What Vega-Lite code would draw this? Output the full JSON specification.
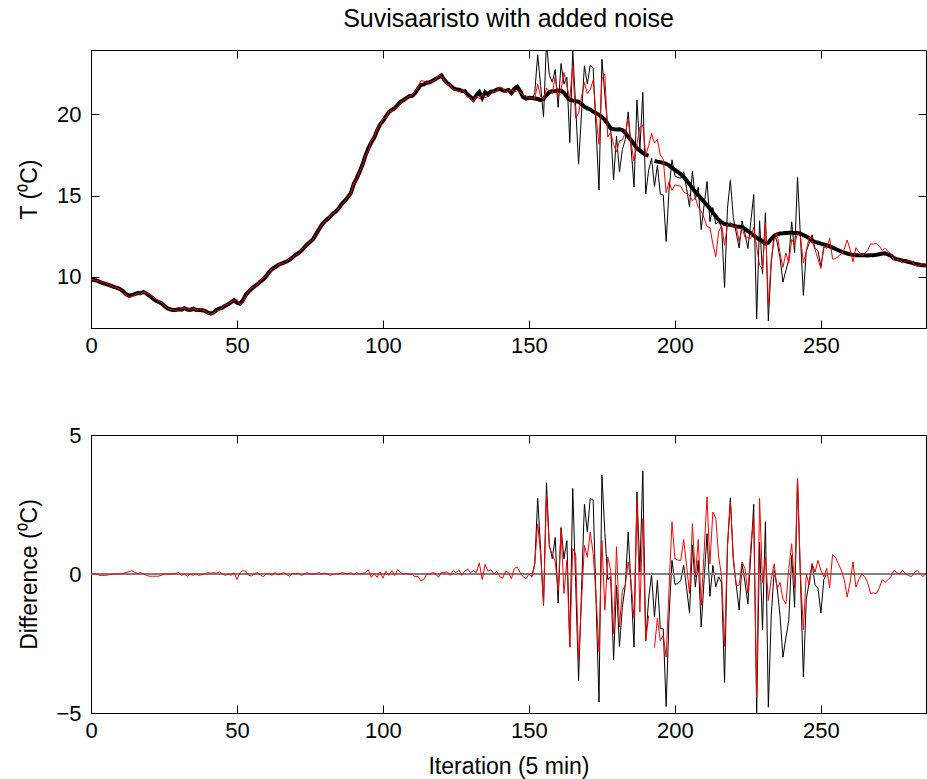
{
"$schema": "https://vega.github.io/schema/vega-lite/v6.json",
"background": "white",
"padding": {"left": 17, "top": 6, "right": 0, "bottom": 0},
"spacing": 66,
"config": {
  "font": "Liberation Sans",
  "view": {"stroke": "black", "strokeWidth": 1},
  "axis": {"grid": false, "domain": false, "tickSize": -8, "tickColor": "black", "tickWidth": 1, "labelPadding": 18, "labelFont": "Liberation Sans", "labelFontSize": 22, "labelColor": "black", "titleFont": "Liberation Sans", "titleFontSize": 23, "titleFontWeight": "normal", "titleColor": "black", "labelFlush": false},
  "axisX": {"labelPadding": 15}
},
"datasets": {"d": [
{"i":0,"t":9.86,"n":9.86,"e":9.86,"db":0,"dr":0},
{"i":1,"t":9.82,"n":9.82,"e":9.82,"db":0,"dr":0},
{"i":2,"t":9.78,"n":9.78,"e":9.78,"db":0,"dr":0},
{"i":3,"t":9.70,"n":9.70,"e":9.75,"db":0,"dr":-0.05},
{"i":4,"t":9.63,"n":9.63,"e":9.68,"db":0,"dr":-0.05},
{"i":5,"t":9.58,"n":9.58,"e":9.63,"db":0,"dr":-0.05},
{"i":6,"t":9.52,"n":9.52,"e":9.55,"db":0,"dr":-0.03},
{"i":7,"t":9.45,"n":9.45,"e":9.45,"db":0,"dr":0},
{"i":8,"t":9.38,"n":9.38,"e":9.38,"db":0,"dr":0},
{"i":9,"t":9.33,"n":9.33,"e":9.33,"db":0,"dr":0},
{"i":10,"t":9.25,"n":9.25,"e":9.25,"db":0,"dr":0},
{"i":11,"t":9.12,"n":9.12,"e":9.10,"db":0,"dr":0.02},
{"i":12,"t":8.95,"n":8.95,"e":8.90,"db":0,"dr":0.05},
{"i":13,"t":8.85,"n":8.85,"e":8.77,"db":0,"dr":0.08},
{"i":14,"t":8.90,"n":8.90,"e":8.78,"db":0,"dr":0.12},
{"i":15,"t":8.95,"n":8.95,"e":8.90,"db":0,"dr":0.05},
{"i":16,"t":9.02,"n":9.02,"e":9.00,"db":0,"dr":0.02},
{"i":17,"t":9.00,"n":9.00,"e":8.95,"db":0,"dr":0.05},
{"i":18,"t":9.08,"n":9.08,"e":9.08,"db":0,"dr":0},
{"i":19,"t":8.98,"n":8.98,"e":9.03,"db":0,"dr":-0.05},
{"i":20,"t":8.85,"n":8.85,"e":8.93,"db":0,"dr":-0.08},
{"i":21,"t":8.72,"n":8.72,"e":8.80,"db":0,"dr":-0.08},
{"i":22,"t":8.57,"n":8.57,"e":8.65,"db":0,"dr":-0.08},
{"i":23,"t":8.48,"n":8.48,"e":8.56,"db":0,"dr":-0.08},
{"i":24,"t":8.40,"n":8.40,"e":8.45,"db":0,"dr":-0.05},
{"i":25,"t":8.25,"n":8.25,"e":8.25,"db":0,"dr":0},
{"i":26,"t":8.10,"n":8.10,"e":8.10,"db":0,"dr":0},
{"i":27,"t":8.02,"n":8.02,"e":8.02,"db":0,"dr":0},
{"i":28,"t":7.98,"n":7.98,"e":7.98,"db":0,"dr":0},
{"i":29,"t":7.98,"n":7.98,"e":7.96,"db":0,"dr":0.02},
{"i":30,"t":8.02,"n":8.02,"e":7.97,"db":0,"dr":0.05},
{"i":31,"t":8.00,"n":8.00,"e":8.05,"db":0,"dr":-0.05},
{"i":32,"t":8.08,"n":8.08,"e":8.08,"db":0,"dr":0},
{"i":33,"t":8.00,"n":8.00,"e":8.08,"db":0,"dr":-0.08},
{"i":34,"t":7.98,"n":7.98,"e":7.98,"db":0,"dr":0},
{"i":35,"t":8.05,"n":8.05,"e":8.10,"db":0,"dr":-0.05},
{"i":36,"t":7.98,"n":7.98,"e":7.96,"db":0,"dr":0.02},
{"i":37,"t":7.98,"n":7.98,"e":8.03,"db":0,"dr":-0.05},
{"i":38,"t":7.96,"n":7.96,"e":7.98,"db":0,"dr":-0.02},
{"i":39,"t":7.92,"n":7.92,"e":7.92,"db":0,"dr":0},
{"i":40,"t":7.82,"n":7.82,"e":7.77,"db":0,"dr":0.05},
{"i":41,"t":7.75,"n":7.75,"e":7.72,"db":0,"dr":0.03},
{"i":42,"t":7.82,"n":7.82,"e":7.77,"db":0,"dr":0.05},
{"i":43,"t":7.98,"n":7.98,"e":7.95,"db":0,"dr":0.03},
{"i":44,"t":8.06,"n":8.06,"e":7.98,"db":0,"dr":0.08},
{"i":45,"t":8.12,"n":8.12,"e":8.12,"db":0,"dr":0},
{"i":46,"t":8.24,"n":8.24,"e":8.29,"db":0,"dr":-0.05},
{"i":47,"t":8.32,"n":8.32,"e":8.32,"db":0,"dr":0},
{"i":48,"t":8.45,"n":8.45,"e":8.50,"db":0,"dr":-0.05},
{"i":49,"t":8.58,"n":8.58,"e":8.53,"db":0,"dr":0.05},
{"i":50,"t":8.42,"n":8.42,"e":8.62,"db":0,"dr":-0.2},
{"i":51,"t":8.36,"n":8.36,"e":8.31,"db":0,"dr":0.05},
{"i":52,"t":8.55,"n":8.55,"e":8.43,"db":0,"dr":0.12},
{"i":53,"t":8.90,"n":8.90,"e":8.80,"db":0,"dr":0.1},
{"i":54,"t":9.10,"n":9.10,"e":9.15,"db":0,"dr":-0.05},
{"i":55,"t":9.28,"n":9.28,"e":9.35,"db":0,"dr":-0.07},
{"i":56,"t":9.42,"n":9.42,"e":9.40,"db":0,"dr":0.02},
{"i":57,"t":9.55,"n":9.55,"e":9.50,"db":0,"dr":0.05},
{"i":58,"t":9.72,"n":9.72,"e":9.75,"db":0,"dr":-0.03},
{"i":59,"t":9.85,"n":9.85,"e":9.95,"db":0,"dr":-0.1},
{"i":60,"t":10.05,"n":10.05,"e":10.05,"db":0,"dr":0},
{"i":61,"t":10.30,"n":10.30,"e":10.27,"db":0,"dr":0.03},
{"i":62,"t":10.48,"n":10.48,"e":10.53,"db":0,"dr":-0.05},
{"i":63,"t":10.60,"n":10.60,"e":10.55,"db":0,"dr":0.05},
{"i":64,"t":10.72,"n":10.72,"e":10.75,"db":0,"dr":-0.03},
{"i":65,"t":10.80,"n":10.80,"e":10.80,"db":0,"dr":0},
{"i":66,"t":10.88,"n":10.88,"e":10.83,"db":0,"dr":0.05},
{"i":67,"t":10.95,"n":10.95,"e":10.97,"db":0,"dr":-0.02},
{"i":68,"t":11.05,"n":11.05,"e":11.13,"db":0,"dr":-0.08},
{"i":69,"t":11.20,"n":11.20,"e":11.18,"db":0,"dr":0.02},
{"i":70,"t":11.35,"n":11.35,"e":11.35,"db":0,"dr":0},
{"i":71,"t":11.45,"n":11.45,"e":11.42,"db":0,"dr":0.03},
{"i":72,"t":11.60,"n":11.60,"e":11.65,"db":0,"dr":-0.05},
{"i":73,"t":11.80,"n":11.80,"e":11.80,"db":0,"dr":0},
{"i":74,"t":12.00,"n":12.00,"e":11.95,"db":0,"dr":0.05},
{"i":75,"t":12.15,"n":12.15,"e":12.15,"db":0,"dr":0},
{"i":76,"t":12.30,"n":12.30,"e":12.30,"db":0,"dr":0},
{"i":77,"t":12.60,"n":12.60,"e":12.60,"db":0,"dr":0},
{"i":78,"t":12.90,"n":12.90,"e":12.84,"db":0,"dr":0.06},
{"i":79,"t":13.20,"n":13.20,"e":13.20,"db":0,"dr":0},
{"i":80,"t":13.40,"n":13.40,"e":13.37,"db":0,"dr":0.03},
{"i":81,"t":13.55,"n":13.55,"e":13.55,"db":0,"dr":0},
{"i":82,"t":13.72,"n":13.72,"e":13.77,"db":0,"dr":-0.05},
{"i":83,"t":13.90,"n":13.90,"e":13.90,"db":0,"dr":0},
{"i":84,"t":14.05,"n":14.05,"e":14.05,"db":0,"dr":0},
{"i":85,"t":14.25,"n":14.25,"e":14.25,"db":0,"dr":0},
{"i":86,"t":14.50,"n":14.50,"e":14.45,"db":0,"dr":0.05},
{"i":87,"t":14.68,"n":14.68,"e":14.66,"db":0,"dr":0.02},
{"i":88,"t":14.90,"n":14.90,"e":14.90,"db":0,"dr":0},
{"i":89,"t":15.15,"n":15.15,"e":15.10,"db":0,"dr":0.05},
{"i":90,"t":15.70,"n":15.70,"e":15.73,"db":0,"dr":-0.03},
{"i":91,"t":16.05,"n":16.05,"e":16.00,"db":0,"dr":0.05},
{"i":92,"t":16.45,"n":16.45,"e":16.47,"db":0,"dr":-0.02},
{"i":93,"t":16.90,"n":16.90,"e":16.88,"db":0,"dr":0.02},
{"i":94,"t":17.45,"n":17.45,"e":17.40,"db":0,"dr":0.05},
{"i":95,"t":17.90,"n":17.90,"e":17.75,"db":0,"dr":0.15},
{"i":96,"t":18.25,"n":18.25,"e":18.37,"db":0,"dr":-0.12},
{"i":97,"t":18.55,"n":18.55,"e":18.53,"db":0,"dr":0.02},
{"i":98,"t":19.00,"n":19.00,"e":19.12,"db":0,"dr":-0.12},
{"i":99,"t":19.35,"n":19.35,"e":19.27,"db":0,"dr":0.08},
{"i":100,"t":19.58,"n":19.58,"e":19.73,"db":0,"dr":-0.15},
{"i":101,"t":19.85,"n":19.85,"e":19.75,"db":0,"dr":0.1},
{"i":102,"t":20.12,"n":20.12,"e":20.17,"db":0,"dr":-0.05},
{"i":103,"t":20.25,"n":20.25,"e":20.13,"db":0,"dr":0.12},
{"i":104,"t":20.35,"n":20.35,"e":20.40,"db":0,"dr":-0.05},
{"i":105,"t":20.55,"n":20.55,"e":20.40,"db":0,"dr":0.15},
{"i":106,"t":20.75,"n":20.75,"e":20.70,"db":0,"dr":0.05},
{"i":107,"t":20.85,"n":20.85,"e":20.85,"db":0,"dr":0},
{"i":108,"t":20.98,"n":20.98,"e":20.96,"db":0,"dr":0.02},
{"i":109,"t":21.10,"n":21.10,"e":21.10,"db":0,"dr":0},
{"i":110,"t":21.12,"n":21.12,"e":21.14,"db":0,"dr":-0.02},
{"i":111,"t":21.28,"n":21.28,"e":21.38,"db":0,"dr":-0.1},
{"i":112,"t":21.55,"n":21.55,"e":21.63,"db":0,"dr":-0.08},
{"i":113,"t":21.80,"n":21.80,"e":22.05,"db":0,"dr":-0.25},
{"i":114,"t":21.82,"n":21.82,"e":22.02,"db":0,"dr":-0.2},
{"i":115,"t":21.92,"n":21.92,"e":21.92,"db":0,"dr":0},
{"i":116,"t":21.95,"n":21.95,"e":21.95,"db":0,"dr":0},
{"i":117,"t":22.05,"n":22.05,"e":22.00,"db":0,"dr":0.05},
{"i":118,"t":22.15,"n":22.15,"e":22.13,"db":0,"dr":0.02},
{"i":119,"t":22.25,"n":22.25,"e":22.37,"db":0,"dr":-0.12},
{"i":120,"t":22.38,"n":22.38,"e":22.33,"db":0,"dr":0.05},
{"i":121,"t":22.10,"n":22.10,"e":22.05,"db":0,"dr":0.05},
{"i":122,"t":21.90,"n":21.90,"e":21.82,"db":0,"dr":0.08},
{"i":123,"t":21.78,"n":21.78,"e":21.83,"db":0,"dr":-0.05},
{"i":124,"t":21.60,"n":21.60,"e":21.48,"db":0,"dr":0.12},
{"i":125,"t":21.52,"n":21.52,"e":21.47,"db":0,"dr":0.05},
{"i":126,"t":21.50,"n":21.50,"e":21.35,"db":0,"dr":0.15},
{"i":127,"t":21.42,"n":21.42,"e":21.47,"db":0,"dr":-0.05},
{"i":128,"t":21.40,"n":21.40,"e":21.30,"db":0,"dr":0.1},
{"i":129,"t":21.20,"n":21.20,"e":21.02,"db":0,"dr":0.18},
{"i":130,"t":21.05,"n":21.05,"e":21.00,"db":0,"dr":0.05},
{"i":131,"t":20.88,"n":20.88,"e":20.76,"db":0,"dr":0.12},
{"i":132,"t":21.15,"n":21.15,"e":21.10,"db":0,"dr":0.05},
{"i":133,"t":21.35,"n":21.35,"e":20.95,"db":0,"dr":0.4},
{"i":134,"t":21.00,"n":21.00,"e":21.20,"db":0,"dr":-0.2},
{"i":135,"t":21.35,"n":21.35,"e":21.00,"db":0,"dr":0.35},
{"i":136,"t":21.20,"n":21.20,"e":21.10,"db":0,"dr":0.1},
{"i":137,"t":21.38,"n":21.38,"e":21.23,"db":0,"dr":0.15},
{"i":138,"t":21.40,"n":21.40,"e":21.40,"db":0,"dr":0},
{"i":139,"t":21.50,"n":21.50,"e":21.40,"db":0,"dr":0.1},
{"i":140,"t":21.55,"n":21.55,"e":21.65,"db":0,"dr":-0.1},
{"i":141,"t":21.45,"n":21.45,"e":21.60,"db":0,"dr":-0.15},
{"i":142,"t":21.42,"n":21.42,"e":21.32,"db":0,"dr":0.1},
{"i":143,"t":21.48,"n":21.48,"e":21.43,"db":0,"dr":0.05},
{"i":144,"t":21.30,"n":21.30,"e":21.47,"db":0,"dr":-0.17},
{"i":145,"t":21.55,"n":21.55,"e":21.35,"db":0,"dr":0.2},
{"i":146,"t":21.68,"n":21.68,"e":21.43,"db":0,"dr":0.25},
{"i":147,"t":21.40,"n":21.40,"e":21.35,"db":0,"dr":0.05},
{"i":148,"t":21.05,"n":21.05,"e":21.15,"db":0,"dr":-0.1},
{"i":149,"t":20.95,"n":20.95,"e":21.12,"db":0,"dr":-0.17},
{"i":150,"t":21.00,"n":21.00,"e":21.00,"db":0,"dr":0},
{"i":151,"t":20.98,"n":20.88,"e":20.98,"db":-0.1,"dr":-0.1},
{"i":152,"t":20.95,"n":21.32,"e":20.95,"db":0.37,"dr":0.37},
{"i":153,"t":20.92,"n":23.64,"e":21.83,"db":2.72,"dr":1.81},
{"i":154,"t":20.86,"n":21.76,"e":21.06,"db":0.9,"dr":0.7},
{"i":155,"t":20.95,"n":19.82,"e":20.90,"db":-1.13,"dr":-1.08},
{"i":156,"t":21.15,"n":24.43,"e":21.60,"db":3.28,"dr":2.83},
{"i":157,"t":21.35,"n":22.38,"e":21.40,"db":1.03,"dr":0.98},
{"i":158,"t":21.40,"n":21.95,"e":21.25,"db":0.55,"dr":0.7},
{"i":159,"t":21.42,"n":22.73,"e":22.27,"db":1.31,"dr":0.46},
{"i":160,"t":21.45,"n":20.41,"e":21.01,"db":-1.04,"dr":-0.6},
{"i":161,"t":21.43,"n":23.10,"e":21.53,"db":1.67,"dr":1.57},
{"i":162,"t":21.30,"n":21.85,"e":22.55,"db":0.55,"dr":-0.7},
{"i":163,"t":21.05,"n":22.25,"e":21.75,"db":1.2,"dr":0.5},
{"i":164,"t":20.88,"n":18.25,"e":20.88,"db":-2.63,"dr":-2.63},
{"i":165,"t":20.82,"n":23.90,"e":22.99,"db":3.08,"dr":0.91},
{"i":166,"t":20.78,"n":20.48,"e":19.75,"db":-0.3,"dr":0.73},
{"i":167,"t":20.76,"n":16.93,"e":20.04,"db":-3.83,"dr":-3.11},
{"i":168,"t":20.62,"n":20.02,"e":21.02,"db":-0.6,"dr":-1.0},
{"i":169,"t":20.45,"n":22.96,"e":21.93,"db":2.51,"dr":1.03},
{"i":170,"t":20.35,"n":21.86,"e":21.26,"db":1.51,"dr":0.6},
{"i":171,"t":20.28,"n":23.00,"e":21.49,"db":2.72,"dr":1.51},
{"i":172,"t":20.15,"n":22.81,"e":22.08,"db":2.66,"dr":0.73},
{"i":173,"t":20.05,"n":19.05,"e":19.85,"db":-1.0,"dr":-0.8},
{"i":174,"t":19.95,"n":15.34,"e":18.15,"db":-4.61,"dr":-2.81},
{"i":175,"t":19.80,"n":23.36,"e":22.15,"db":3.56,"dr":1.21},
{"i":176,"t":19.65,"n":21.15,"e":22.45,"db":1.5,"dr":-1.3},
{"i":177,"t":19.40,"n":19.20,"e":18.59,"db":-0.2,"dr":0.61},
{"i":178,"t":19.12,"n":19.02,"e":18.89,"db":-0.1,"dr":0.13},
{"i":179,"t":19.06,"n":15.98,"e":18.13,"db":-3.08,"dr":-2.15},
{"i":180,"t":19.05,"n":18.65,"e":17.67,"db":-0.4,"dr":0.98},
{"i":181,"t":19.06,"n":16.46,"e":18.36,"db":-2.6,"dr":-1.9},
{"i":182,"t":19.02,"n":17.82,"e":18.42,"db":-1.2,"dr":-0.6},
{"i":183,"t":18.85,"n":18.45,"e":18.85,"db":-0.4,"dr":-0.4},
{"i":184,"t":18.62,"n":20.13,"e":19.70,"db":1.51,"dr":0.43},
{"i":185,"t":18.40,"n":17.90,"e":18.20,"db":-0.5,"dr":-0.3},
{"i":186,"t":18.15,"n":15.52,"e":17.12,"db":-2.63,"dr":-1.6},
{"i":187,"t":17.90,"n":20.85,"e":18.19,"db":2.95,"dr":2.66},
{"i":188,"t":17.75,"n":17.82,"e":19.19,"db":0.07,"dr":-1.37},
{"i":189,"t":17.62,"n":21.33,"e":19.33,"db":3.71,"dr":2.0},
{"i":190,"t":17.50,"n":15.10,"e":17.50,"db":-2.4,"dr":-2.4},
{"i":191,"t":17.45,"n":16.55,"e":18.05,"db":-0.9,"dr":-1.5},
{"i":192,"t":null,"n":17.28,"e":18.81,"db":-0.02,"dr":null},
{"i":193,"t":17.12,"n":15.57,"e":18.22,"db":-1.55,"dr":-2.65},
{"i":194,"t":17.08,"n":16.85,"e":18.45,"db":-0.23,"dr":-1.6},
{"i":195,"t":17.05,"n":15.08,"e":17.48,"db":-1.97,"dr":-2.4},
{"i":196,"t":17.00,"n":15.03,"e":17.23,"db":-1.97,"dr":-2.2},
{"i":197,"t":16.95,"n":12.18,"e":15.17,"db":-4.77,"dr":-2.99},
{"i":198,"t":16.85,"n":15.35,"e":15.85,"db":-1.5,"dr":-0.5},
{"i":199,"t":16.70,"n":17.19,"e":15.31,"db":0.49,"dr":1.88},
{"i":200,"t":16.58,"n":16.21,"e":15.66,"db":-0.37,"dr":0.55},
{"i":201,"t":16.45,"n":16.10,"e":15.60,"db":-0.35,"dr":0.5},
{"i":202,"t":16.30,"n":16.07,"e":15.58,"db":-0.23,"dr":0.49},
{"i":203,"t":16.15,"n":16.46,"e":15.22,"db":0.31,"dr":1.24},
{"i":204,"t":15.92,"n":15.42,"e":15.12,"db":-0.5,"dr":0.3},
{"i":205,"t":15.70,"n":14.30,"e":15.00,"db":-1.4,"dr":-0.7},
{"i":206,"t":15.45,"n":16.48,"e":14.67,"db":1.03,"dr":1.81},
{"i":207,"t":15.22,"n":14.76,"e":14.86,"db":-0.46,"dr":-0.1},
{"i":208,"t":15.02,"n":15.51,"e":14.27,"db":0.49,"dr":1.24},
{"i":209,"t":14.82,"n":12.91,"e":14.04,"db":-1.91,"dr":-1.13},
{"i":210,"t":14.62,"n":14.42,"e":13.62,"db":-0.2,"dr":0.8},
{"i":211,"t":14.41,"n":15.86,"e":13.09,"db":1.45,"dr":2.77},
{"i":212,"t":14.20,"n":13.40,"e":13.03,"db":-0.8,"dr":0.37},
{"i":213,"t":13.95,"n":14.26,"e":12.03,"db":0.31,"dr":2.23},
{"i":214,"t":13.72,"n":13.25,"e":11.25,"db":-0.47,"dr":2.0},
{"i":215,"t":13.50,"n":13.40,"e":12.79,"db":-0.1,"dr":0.61},
{"i":216,"t":13.35,"n":13.05,"e":13.15,"db":-0.3,"dr":-0.1},
{"i":217,"t":13.25,"n":9.35,"e":11.95,"db":-3.9,"dr":-2.6},
{"i":218,"t":13.22,"n":14.22,"e":13.22,"db":1.0,"dr":1.0},
{"i":219,"t":13.20,"n":15.94,"e":13.34,"db":2.74,"dr":2.6},
{"i":220,"t":13.15,"n":13.64,"e":13.04,"db":0.49,"dr":0.6},
{"i":221,"t":13.10,"n":12.70,"e":13.10,"db":-0.4,"dr":-0.4},
{"i":222,"t":13.08,"n":11.78,"e":12.18,"db":-1.3,"dr":-0.4},
{"i":223,"t":13.06,"n":13.43,"e":13.00,"db":0.37,"dr":0.43},
{"i":224,"t":12.95,"n":12.65,"e":12.45,"db":-0.3,"dr":0.2},
{"i":225,"t":12.82,"n":11.75,"e":12.45,"db":-1.07,"dr":-0.7},
{"i":226,"t":12.70,"n":13.40,"e":12.37,"db":0.7,"dr":1.03},
{"i":227,"t":12.55,"n":15.06,"e":13.06,"db":2.51,"dr":2.0},
{"i":228,"t":12.42,"n":7.42,"e":11.85,"db":-5.0,"dr":-4.43},
{"i":229,"t":12.30,"n":13.45,"e":10.73,"db":1.15,"dr":2.72},
{"i":230,"t":12.18,"n":10.18,"e":10.48,"db":-2.0,"dr":-0.3},
{"i":231,"t":12.06,"n":13.94,"e":13.34,"db":1.88,"dr":0.6},
{"i":232,"t":12.10,"n":7.31,"e":8.26,"db":-4.79,"dr":-0.95},
{"i":233,"t":12.35,"n":10.85,"e":11.05,"db":-1.5,"dr":-0.2},
{"i":234,"t":12.52,"n":12.65,"e":12.28,"db":0.13,"dr":0.37},
{"i":235,"t":12.62,"n":12.15,"e":12.68,"db":-0.47,"dr":-0.53},
{"i":236,"t":12.67,"n":11.17,"e":11.47,"db":-1.5,"dr":-0.3},
{"i":237,"t":12.68,"n":9.69,"e":10.59,"db":-2.99,"dr":-0.9},
{"i":238,"t":12.70,"n":10.40,"e":11.47,"db":-2.3,"dr":-1.07},
{"i":239,"t":12.72,"n":11.05,"e":10.85,"db":-1.67,"dr":0.2},
{"i":240,"t":12.72,"n":13.39,"e":12.30,"db":0.67,"dr":1.09},
{"i":241,"t":12.70,"n":11.50,"e":12.00,"db":-1.2,"dr":-0.5},
{"i":242,"t":12.70,"n":16.13,"e":12.70,"db":3.43,"dr":3.43},
{"i":243,"t":12.66,"n":12.46,"e":12.46,"db":-0.2,"dr":0},
{"i":244,"t":12.58,"n":8.87,"e":10.87,"db":-3.71,"dr":-2.0},
{"i":245,"t":12.48,"n":11.58,"e":11.58,"db":-0.9,"dr":0},
{"i":246,"t":12.38,"n":12.08,"e":12.48,"db":-0.3,"dr":-0.4},
{"i":247,"t":12.22,"n":12.59,"e":12.22,"db":0.37,"dr":0.37},
{"i":248,"t":12.15,"n":11.75,"e":11.68,"db":-0.4,"dr":0.07},
{"i":249,"t":12.10,"n":11.60,"e":11.11,"db":-0.5,"dr":0.49},
{"i":250,"t":12.05,"n":10.65,"e":10.52,"db":-1.4,"dr":0.13},
{"i":251,"t":12.00,"n":11.80,"e":11.90,"db":-0.2,"dr":-0.1},
{"i":252,"t":11.95,"n":11.95,"e":11.75,"db":0,"dr":0.2},
{"i":253,"t":11.88,"n":11.88,"e":12.38,"db":0,"dr":-0.5},
{"i":254,"t":11.80,"n":11.80,"e":11.10,"db":0,"dr":0.7},
{"i":255,"t":11.72,"n":11.72,"e":11.12,"db":0,"dr":0.6},
{"i":256,"t":11.64,"n":11.64,"e":11.27,"db":0,"dr":0.37},
{"i":257,"t":11.56,"n":11.56,"e":11.43,"db":0,"dr":0.13},
{"i":258,"t":11.50,"n":11.50,"e":11.70,"db":0,"dr":-0.2},
{"i":259,"t":11.44,"n":11.44,"e":12.27,"db":0,"dr":-0.83},
{"i":260,"t":11.40,"n":11.40,"e":11.70,"db":0,"dr":-0.3},
{"i":261,"t":11.36,"n":11.36,"e":10.93,"db":0,"dr":0.43},
{"i":262,"t":11.33,"n":11.33,"e":11.80,"db":0,"dr":-0.47},
{"i":263,"t":11.33,"n":11.33,"e":11.53,"db":0,"dr":-0.2},
{"i":264,"t":11.33,"n":11.33,"e":11.33,"db":0,"dr":0},
{"i":265,"t":11.33,"n":11.33,"e":11.43,"db":0,"dr":-0.1},
{"i":266,"t":11.32,"n":11.32,"e":11.62,"db":0,"dr":-0.3},
{"i":267,"t":11.33,"n":11.33,"e":12.03,"db":0,"dr":-0.7},
{"i":268,"t":11.34,"n":11.34,"e":12.02,"db":0,"dr":-0.68},
{"i":269,"t":11.36,"n":11.36,"e":12.06,"db":0,"dr":-0.7},
{"i":270,"t":11.40,"n":11.40,"e":11.90,"db":0,"dr":-0.5},
{"i":271,"t":11.44,"n":11.44,"e":11.64,"db":0,"dr":-0.2},
{"i":272,"t":11.45,"n":11.45,"e":11.75,"db":0,"dr":-0.3},
{"i":273,"t":11.38,"n":11.38,"e":11.58,"db":0,"dr":-0.2},
{"i":274,"t":11.30,"n":11.30,"e":11.40,"db":0,"dr":-0.1},
{"i":275,"t":11.15,"n":11.15,"e":11.02,"db":0,"dr":0.13},
{"i":276,"t":11.10,"n":11.10,"e":11.05,"db":0,"dr":0.05},
{"i":277,"t":11.05,"n":11.05,"e":11.05,"db":0,"dr":0},
{"i":278,"t":11.00,"n":11.00,"e":10.87,"db":0,"dr":0.13},
{"i":279,"t":10.98,"n":10.98,"e":10.98,"db":0,"dr":0},
{"i":280,"t":10.92,"n":10.92,"e":10.97,"db":0,"dr":-0.05},
{"i":281,"t":10.88,"n":10.88,"e":10.98,"db":0,"dr":-0.1},
{"i":282,"t":10.82,"n":10.82,"e":10.77,"db":0,"dr":0.05},
{"i":283,"t":10.78,"n":10.78,"e":10.65,"db":0,"dr":0.13},
{"i":284,"t":10.74,"n":10.74,"e":10.74,"db":0,"dr":0},
{"i":285,"t":10.72,"n":10.72,"e":10.82,"db":0,"dr":-0.1},
{"i":286,"t":10.70,"n":10.70,"e":10.65,"db":0,"dr":0.05}
]},
"vconcat": [
{
  "width": 835, "height": 278,
  "title": {"text": "Suvisaaristo with added noise", "fontSize": 25, "fontWeight": "normal", "font": "Liberation Sans", "color": "black", "offset": 18, "anchor": "middle", "frame": "group"},
  "data": {"name": "d"},
  "layer": [
    {"mark": {"type": "line", "color": "black", "strokeWidth": 4, "clip": true, "invalid": "break-paths-show-domains"},
     "encoding": {
       "x": {"field": "i", "type": "quantitative", "scale": {"domain": [0, 286], "nice": false, "zero": false}, "axis": {"orient": "bottom", "values": [0,50,100,150,200,250], "format": "d", "title": null}},
       "y": {"field": "t", "type": "quantitative", "scale": {"domain": [6.87, 23.93], "nice": false, "zero": false}, "axis": {"orient": "left", "values": [10,15,20], "format": "d", "title": "T (⁰C)", "minExtent": 35, "maxExtent": 35, "titlePadding": 15}}
     }},
    {"mark": {"type": "line", "color": "black", "strokeWidth": 1, "clip": true, "invalid": "break-paths-show-domains"},
     "encoding": {
       "x": {"field": "i", "type": "quantitative", "scale": {"domain": [0, 286], "nice": false, "zero": false}, "axis": {"orient": "top", "values": [0,50,100,150,200,250], "labels": false, "title": null}},
       "y": {"field": "n", "type": "quantitative", "scale": {"domain": [6.87, 23.93], "nice": false, "zero": false}, "axis": {"orient": "right", "values": [10,15,20], "labels": false, "title": null}}
     }},
    {"mark": {"type": "line", "color": "#ff0000", "strokeWidth": 1, "clip": true, "invalid": "break-paths-show-domains"},
     "encoding": {
       "x": {"field": "i", "type": "quantitative", "scale": {"domain": [0, 286], "nice": false, "zero": false}, "axis": null},
       "y": {"field": "e", "type": "quantitative", "scale": {"domain": [6.87, 23.93], "nice": false, "zero": false}, "axis": null}
     }}
  ],
  "resolve": {"axis": {"x": "independent", "y": "independent"}}
},
{
  "width": 835, "height": 278,
  "data": {"name": "d"},
  "layer": [
    {"mark": {"type": "line", "color": "black", "strokeWidth": 1, "clip": true, "invalid": "break-paths-show-domains"},
     "encoding": {
       "x": {"field": "i", "type": "quantitative", "scale": {"domain": [0, 286], "nice": false, "zero": false}, "axis": {"orient": "bottom", "values": [0,50,100,150,200,250], "format": "d", "title": "Iteration (5 min)", "titlePadding": 14}},
       "y": {"field": "db", "type": "quantitative", "scale": {"domain": [-5, 5], "nice": false, "zero": false}, "axis": {"orient": "left", "values": [-5,0,5], "format": "d", "title": "Difference (⁰C)", "minExtent": 35, "maxExtent": 35, "titlePadding": 15}}
     }},
    {"mark": {"type": "rule", "color": "#808080", "strokeWidth": 1.5},
     "encoding": {"y": {"datum": 0, "type": "quantitative", "scale": {"domain": [-5, 5], "nice": false, "zero": false}, "axis": null}}},
    {"mark": {"type": "line", "color": "#ff0000", "strokeWidth": 1, "clip": true, "invalid": "break-paths-show-domains"},
     "encoding": {
       "x": {"field": "i", "type": "quantitative", "scale": {"domain": [0, 286], "nice": false, "zero": false}, "axis": {"orient": "top", "values": [0,50,100,150,200,250], "labels": false, "title": null}},
       "y": {"field": "dr", "type": "quantitative", "scale": {"domain": [-5, 5], "nice": false, "zero": false}, "axis": {"orient": "right", "values": [-5,0,5], "labels": false, "title": null}}
     }}
  ],
  "resolve": {"axis": {"x": "independent", "y": "independent"}}
}
]
}
